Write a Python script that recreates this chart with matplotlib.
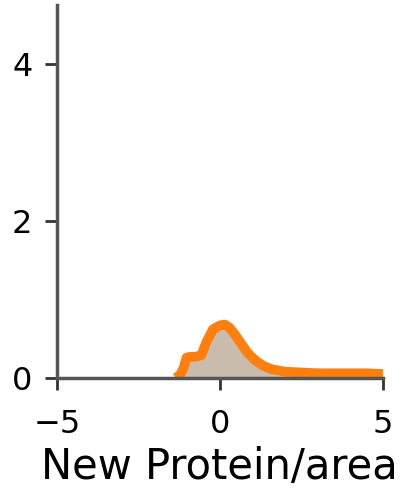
import matplotlib
matplotlib.use("Agg")
import matplotlib.pyplot as plt

# density curve
x_vals = [-1.35, -1.22, -1.12, -1.02, -0.9, -0.75, -0.57, -0.41, -0.21, 0.0, 0.15, 0.3, 0.45, 0.65, 0.85,
          1.1, 1.35, 1.6, 2.0, 2.5, 3.0, 3.5, 4.0, 4.5, 5.0]
y_vals = [0.0, 0.04, 0.12, 0.26, 0.27, 0.27, 0.29, 0.46, 0.62, 0.67, 0.68, 0.64, 0.56, 0.44, 0.32,
          0.22, 0.15, 0.11, 0.08, 0.07, 0.06, 0.06, 0.06, 0.06, 0.05]
xticks = [-5, 0, 5]
yticks = [0, 2, 4]

fig = plt.figure(figsize=(4.06, 4.9), dpi=100)
ax = fig.add_axes([0.14, 0.2286, 0.803, 0.761])

ax.fill_between(x_vals, y_vals, 0, color="#c9bcad", lw=0)
ax.plot(x_vals, y_vals, color="#ff7f0e", lw=7, solid_capstyle="butt", solid_joinstyle="round")

ax.set_xlim(-5, 5)
ax.set_ylim(0, 4.75)
ax.set_xticks(xticks)
ax.set_yticks(yticks)
ax.tick_params(labelsize=23, width=2, length=8.5, color="#333333")
ax.tick_params(axis="x", pad=14)
ax.tick_params(axis="y", pad=9)
ax.set_xlabel("New Protein/area", fontsize=30, labelpad=4)

for s in ["top", "right"]:
    ax.spines[s].set_visible(False)
for s in ["left", "bottom"]:
    ax.spines[s].set_linewidth(2.5)
    ax.spines[s].set_color("#555555")

fig.savefig("out.png", dpi=100)
